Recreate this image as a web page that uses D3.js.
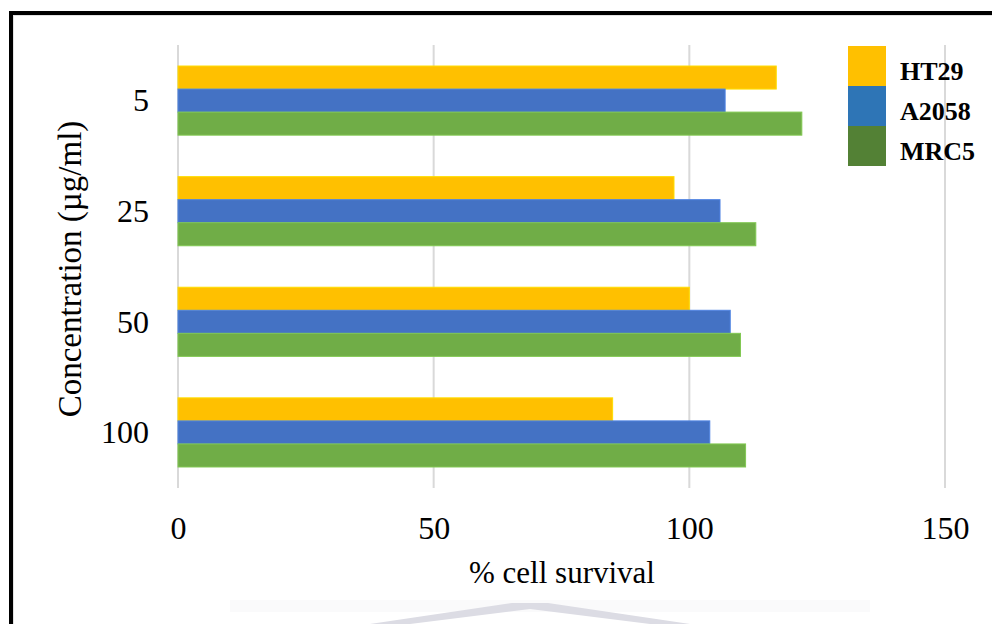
<!DOCTYPE html>
<html>
<head>
<meta charset="utf-8">
<script src="https://cdn.jsdelivr.net/npm/d3@7"></script>
<style>
  html, body { margin: 0; padding: 0; background: #fff; }
  svg { display: block; }
  svg text { font-family: "Liberation Serif", Tinos, "Times New Roman", Times, "DejaVu Serif", serif; }
</style>
</head>
<body>
<svg id="chart" width="992" height="624"></svg>
<script>
// Concentrations (µg/ml), top to bottom
const concentrations = ["5", "25", "50", "100"];
// Cell lines
const cellLines = ["HT29", "A2058", "MRC5"];
// % cell survival per cell line, in concentration order
const ht29  = [117, 97, 100, 85];
const a2058 = [107, 106, 108, 104];
const mrc5  = [122, 113, 110, 111];
const xTicks = [0, 50, 100, 150];

const seriesValues = [ht29, a2058, mrc5];
const barColors = ["#FFC000", "#4472C4", "#70AD47"];
const legendColors = ["#FFC000", "#2E75B6", "#538135"];

const W = 992, H = 624;
const svg = d3.select("#chart");

// faint emblem at the foot of the page
const mark = svg.append("g");
mark.append("rect").attr("x", 230).attr("y", 600).attr("width", 640).attr("height", 12)
  .attr("fill", "#fafafb");
mark.append("path").attr("d", "M370,624 L512,603 L548,603 L690,624 L650,624 L530,609 L410,624 Z")
  .attr("fill", "#dcdce4");

// frame
svg.append("rect").attr("x", 13).attr("y", 15).attr("width", W).attr("height", H)
  .attr("fill", "none").attr("stroke", "#e2e2e2").attr("stroke-width", 2);
svg.append("rect").attr("x", 9).attr("y", 11).attr("width", 4).attr("height", H).attr("fill", "#000");
svg.append("rect").attr("x", 9).attr("y", 11).attr("width", W).attr("height", 4).attr("fill", "#000");

const plot = { left: 178, right: 945, top: 45, bottom: 488 };

const x = d3.scaleLinear().domain([0, 150]).range([plot.left, plot.right]);
const y = d3.scaleBand().domain(concentrations).range([plot.top, plot.bottom])
  .paddingInner(0.375).paddingOuter(0.19);
const ySub = d3.scaleBand().domain(cellLines).range([0, y.bandwidth()]);

// vertical gridlines
svg.append("g").selectAll("line").data(xTicks).join("line")
  .attr("x1", d => x(d)).attr("x2", d => x(d))
  .attr("y1", plot.top).attr("y2", plot.bottom)
  .attr("stroke", "#d9d9d9").attr("stroke-width", 2);

// bars
cellLines.forEach((name, si) => {
  svg.append("g").selectAll("rect").data(concentrations).join("rect")
    .attr("x", x(0))
    .attr("y", (c) => y(c) + ySub(name))
    .attr("width", (c, i) => x(seriesValues[si][i]) - x(0))
    .attr("height", ySub.bandwidth())
    .attr("fill", barColors[si])
    .attr("stroke", d3.color(barColors[si]).brighter(0.4))
    .attr("stroke-width", 1);
});

// x axis labels
const xAxis = d3.axisBottom(x).tickValues(xTicks).tickSize(0).tickPadding(0);
const gx = svg.append("g").attr("transform", `translate(0,${plot.bottom})`).call(xAxis);
gx.attr("font-family", null);
gx.select(".domain").remove();
gx.selectAll("text").attr("font-size", 32).attr("fill", "#000")
  .attr("dy", null).attr("y", 51);

// y axis labels
const yAxis = d3.axisLeft(y).tickSize(0).tickPadding(0);
const gy = svg.append("g").attr("transform", `translate(149,0)`).call(yAxis);
gy.attr("font-family", null);
gy.select(".domain").remove();
gy.selectAll("text").attr("font-size", 32).attr("fill", "#000")
  .attr("dy", "0.34em");

// axis titles
svg.append("text").attr("x", 562).attr("y", 583).attr("text-anchor", "middle")
  .attr("font-size", 31).attr("fill", "#000")
  .text("% cell survival");
svg.append("text").attr("transform", "translate(81,269) rotate(-90)").attr("text-anchor", "middle")
  .attr("font-size", 33).attr("fill", "#000")
  .text("Concentration (µg/ml)");

// legend
const legend = svg.append("g").attr("transform", "translate(848,46)");
cellLines.forEach((name, i) => {
  legend.append("rect").attr("x", 0).attr("y", i * 40).attr("width", 38).attr("height", 40)
    .attr("fill", legendColors[i]);
  legend.append("text").attr("x", 52).attr("y", i * 40 + 34)
    .attr("font-weight", "bold").attr("font-size", 26)
    .attr("fill", "#000").text(name);
});
</script>
</body>
</html>
